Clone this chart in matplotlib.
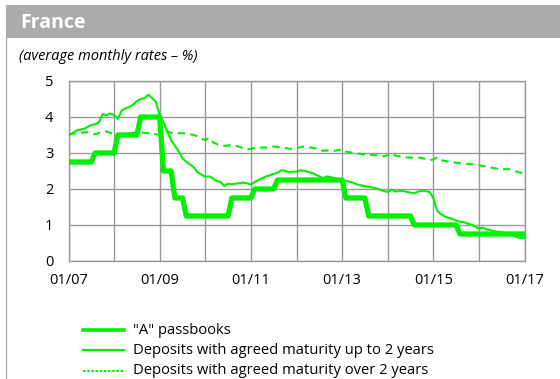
import numpy as np
import matplotlib
matplotlib.use('Agg')
import matplotlib.pyplot as plt
from matplotlib.lines import Line2D
from matplotlib.patches import Rectangle

plt.rcParams['font.family'] = ['Open Sans', 'DejaVu Sans']

# monthly observations, 01/2007 .. 01/2017
x_labels = ["01/07", "01/09", "01/11", "01/13", "01/15", "01/17"]

# "A" passbook rate: month index (from 01/07) when each rate took effect
passbook_start = [0, 7, 13, 19, 25, 28, 31, 43, 49, 55, 73, 79, 91, 103]
passbook_rate = [2.75, 3.0, 3.5, 4.0, 2.5, 1.75, 1.25, 1.75, 2.0, 2.25,
                 1.75, 1.25, 1.0, 0.75]

upto2y = [3.48, 3.55, 3.62, 3.65, 3.67, 3.72, 3.78, 3.80, 3.85, 4.08,
          4.05, 4.10, 4.05, 3.95, 4.18, 4.24, 4.28, 4.34, 4.44, 4.50,
          4.52, 4.62, 4.52, 4.42, 4.05, 3.85, 3.60, 3.35, 3.20, 3.05,
          2.85, 2.76, 2.68, 2.60, 2.46, 2.40, 2.34, 2.35, 2.30, 2.22,
          2.20, 2.08, 2.15, 2.13, 2.15, 2.16, 2.18, 2.16, 2.12, 2.20,
          2.25, 2.30, 2.35, 2.38, 2.42, 2.45, 2.52, 2.50, 2.47, 2.48,
          2.48, 2.52, 2.50, 2.48, 2.45, 2.40, 2.35, 2.30, 2.35, 2.33,
          2.30, 2.28, 2.25, 2.23, 2.20, 2.17, 2.12, 2.10, 2.08, 2.06,
          2.04, 2.02, 1.98, 1.94, 1.92, 1.98, 1.93, 1.94, 1.95, 1.92,
          1.90, 1.88, 1.93, 1.95, 1.94, 1.92, 1.75, 1.40, 1.30, 1.24,
          1.20, 1.17, 1.12, 1.09, 1.08, 1.04, 1.01, 0.96, 0.90, 0.93,
          0.88, 0.86, 0.83, 0.81, 0.80, 0.78, 0.75, 0.72, 0.66, 0.64,
          0.64]

over2y = [3.52, 3.53, 3.55, 3.56, 3.57, 3.58, 3.55, 3.52, 3.56, 3.58,
          3.60, 3.56, 3.52, 3.50, 3.51, 3.53, 3.55, 3.56, 3.57, 3.58,
          3.56, 3.55, 3.54, 3.52, 3.50, 3.58, 3.60, 3.56, 3.55, 3.55,
          3.55, 3.54, 3.52, 3.50, 3.46, 3.40, 3.36, 3.42, 3.30, 3.25,
          3.20, 3.20, 3.21, 3.22, 3.20, 3.17, 3.13, 3.10, 3.12, 3.14,
          3.15, 3.15, 3.15, 3.16, 3.18, 3.17, 3.15, 3.14, 3.12, 3.11,
          3.13, 3.16, 3.18, 3.16, 3.15, 3.13, 3.10, 3.06, 3.07, 3.07,
          3.06, 3.08, 3.11, 3.04, 3.02, 3.00, 2.99, 2.97, 2.95, 2.95,
          2.95, 2.94, 2.93, 2.91, 2.94, 3.00, 2.93, 2.91, 2.90, 2.88,
          2.87, 2.87, 2.87, 2.86, 2.83, 2.80, 2.82, 2.88, 2.80, 2.78,
          2.76, 2.74, 2.73, 2.72, 2.72, 2.70, 2.69, 2.68, 2.66, 2.64,
          2.62, 2.60, 2.58, 2.56, 2.55, 2.55, 2.55, 2.52, 2.48, 2.45,
          2.42]

legend_labels = ['"A" passbooks',
                 "Deposits with agreed maturity up to 2 years",
                 "Deposits with agreed maturity over 2 years"]

GREEN = '#00f000'
GRID = '#999999'
W, H = 560, 379

months = np.arange(len(upto2y))
# expand the rate changes to one value per month
passbook = np.zeros(len(months))
for start, rate in zip(passbook_start, passbook_rate):
    passbook[start:] = rate

fig = plt.figure(figsize=(W / 100, H / 100), dpi=100)

# header band and left rule
fig.add_artist(Rectangle((6 / W, 1 - 38 / H), 1, 33 / H, transform=fig.transFigure,
                         facecolor='#ababab', edgecolor='none'))
fig.add_artist(Line2D([6 / W, 6 / W], [0, 1 - 38 / H], transform=fig.transFigure,
                      color='#b0b0b0', lw=1))
fig.text(20 / W, 1 - 23 / H, "France", color='white', fontsize=14,
         fontweight='bold', va='center', ha='left')
fig.text(19 / W, 1 - 57 / H, "(average monthly rates \u2013 %)", fontsize=10.5,
         style='italic', va='center', ha='left')

ax = fig.add_axes([68.5 / W, (H - 261) / H, 456 / W, 180 / H])
ax.plot(months, upto2y, color=GREEN, lw=1.5, zorder=3)
ax.plot(months, over2y, color=GREEN, lw=1.5, dashes=(3.5, 2.5), zorder=3)
ax.plot(months, passbook, color=GREEN, lw=3.8, zorder=4)

ax.set_xlim(0, 120)
ax.set_ylim(0, 5)
ax.set_xticks(np.arange(0, 121, 12), minor=True)
ax.set_xticks(np.arange(0, 121, 24))
ax.set_xticklabels(x_labels)
ax.set_yticks(np.arange(0, 6))
ax.grid(True, which='both', color=GRID, lw=1)
ax.tick_params(which='both', length=0, labelsize=10.5)
ax.tick_params(axis='x', pad=9)
ax.tick_params(axis='y', pad=11)
for s in ax.spines.values():
    s.set_color(GRID)
    s.set_linewidth(1)

# legend
rows = [330, 350, 371]
styles = [dict(lw=2.6), dict(lw=1.5), dict(lw=1.5, dashes=(1.2, 0.8))]
for y, lab, st in zip(rows, legend_labels, styles):
    fig.add_artist(Line2D([83 / W, 124 / W], [1 - y / H, 1 - y / H],
                          transform=fig.transFigure, color=GREEN, **st))
    fig.text(133 / W, 1 - y / H, lab, fontsize=10.6, va='center', ha='left')

fig.savefig('out.png', dpi=100)
